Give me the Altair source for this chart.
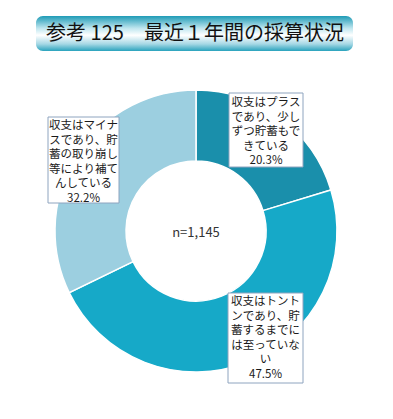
import altair as alt
import pandas as pd

# ---- data ----
categories = ["プラス", "トントン", "マイナス"]
shares = [20.3, 47.5, 32.2]
order = [1, 2, 3]
colors = ["#1a8fab", "#16a9c8", "#9ccfe0"]

label_lines = [
    "収支はプラス\nであり、少し\nずつ貯蓄もで\nきている\n20.3%",
    "収支はトント\nンであり、貯\n蓄するまでに\nは至っていな\nい\n47.5%",
    "収支はマイナ\nスであり、貯\n蓄の取り崩し\n等により補て\nんしている\n32.2%",
]
# label boxes (page px relative to chart origin)
box_x1 = [221, 220, 40]
box_x2 = [295, 295, 111]
box_y1 = [85, 285, 109]
box_y2 = [159, 375, 195]
text_x = [258, 257.5, 75.5]
text_y = [89, 288, 112]

title = "参考 125　最近１年間の採算状況"
center_label = "n=1,145"

W, H = 377, 403
CX, CY = 188, 223
R_OUT, R_IN = 141, 70
FONT = "Noto Sans CJK JP"

xs = alt.Scale(domain=[0, W], range=[0, W])
ys = alt.Scale(domain=[0, H], range=[0, H])

donut_df = pd.DataFrame({"cat": categories, "share": shares, "order": order})
donut = alt.Chart(donut_df).mark_arc(
    outerRadius=R_OUT, innerRadius=R_IN, stroke="white", strokeWidth=1.5
).encode(
    theta=alt.Theta("share:Q", stack=True),
    order=alt.Order("order:Q"),
    color=alt.Color("cat:N", scale=alt.Scale(domain=categories, range=colors), legend=None),
    x=alt.value(CX), y=alt.value(CY),
)

box_df = pd.DataFrame({"x1": box_x1, "x2": box_x2, "y1": box_y1, "y2": box_y2,
                       "tx": text_x, "ty": text_y, "t": label_lines})
boxes = alt.Chart(box_df).mark_rect(fill="white", stroke="#8ea4bf", strokeWidth=1).encode(
    x=alt.X("x1:Q", scale=xs, axis=None), x2="x2:Q",
    y=alt.Y("y1:Q", scale=ys, axis=None), y2="y2:Q",
)
texts = alt.Chart(box_df).mark_text(
    font=FONT, fontSize=11.5, lineBreak="\n", lineHeight=14.5, baseline="top",
    align="center", color="#1a1a1a"
).encode(
    x=alt.X("tx:Q", scale=xs, axis=None),
    y=alt.Y("ty:Q", scale=ys, axis=None),
    text="t:N",
)

center_df = pd.DataFrame({"x": [CX], "y": [CY + 2], "t": [center_label]})
center = alt.Chart(center_df).mark_text(font=FONT, fontSize=13, color="#333333").encode(
    x=alt.X("x:Q", scale=xs, axis=None), y=alt.Y("y:Q", scale=ys, axis=None), text="t:N"
)

banner_df = pd.DataFrame({"x1": [28], "x2": [345], "y1": [8], "y2": [43], "tx": [187], "ty": [26], "t": [title]})
grad = alt.Gradient(
    gradient="linear", x1=0, x2=0, y1=0, y2=1,
    stops=[
        alt.GradientStop(color="#1f9bb6", offset=0),
        alt.GradientStop(color="#bfe6ef", offset=0.35),
        alt.GradientStop(color="#ffffff", offset=0.55),
        alt.GradientStop(color="#a6d8e5", offset=0.8),
        alt.GradientStop(color="#2aa3bd", offset=1),
    ],
)
banner = alt.Chart(banner_df).mark_rect(color=grad, cornerRadius=7).encode(
    x=alt.X("x1:Q", scale=xs, axis=None), x2="x2:Q",
    y=alt.Y("y1:Q", scale=ys, axis=None), y2="y2:Q",
)
banner_text = alt.Chart(banner_df).mark_text(font=FONT, fontSize=20, color="#111111").encode(
    x=alt.X("tx:Q", scale=xs, axis=None), y=alt.Y("ty:Q", scale=ys, axis=None), text="t:N"
)

chart = alt.layer(banner, banner_text, donut, boxes, texts, center).properties(
    width=W, height=H, padding=0, autosize=alt.AutoSizeParams(type="none")
).configure_view(stroke=None)

chart.save("out.html", embed_options={"renderer": "svg", "actions": False})
